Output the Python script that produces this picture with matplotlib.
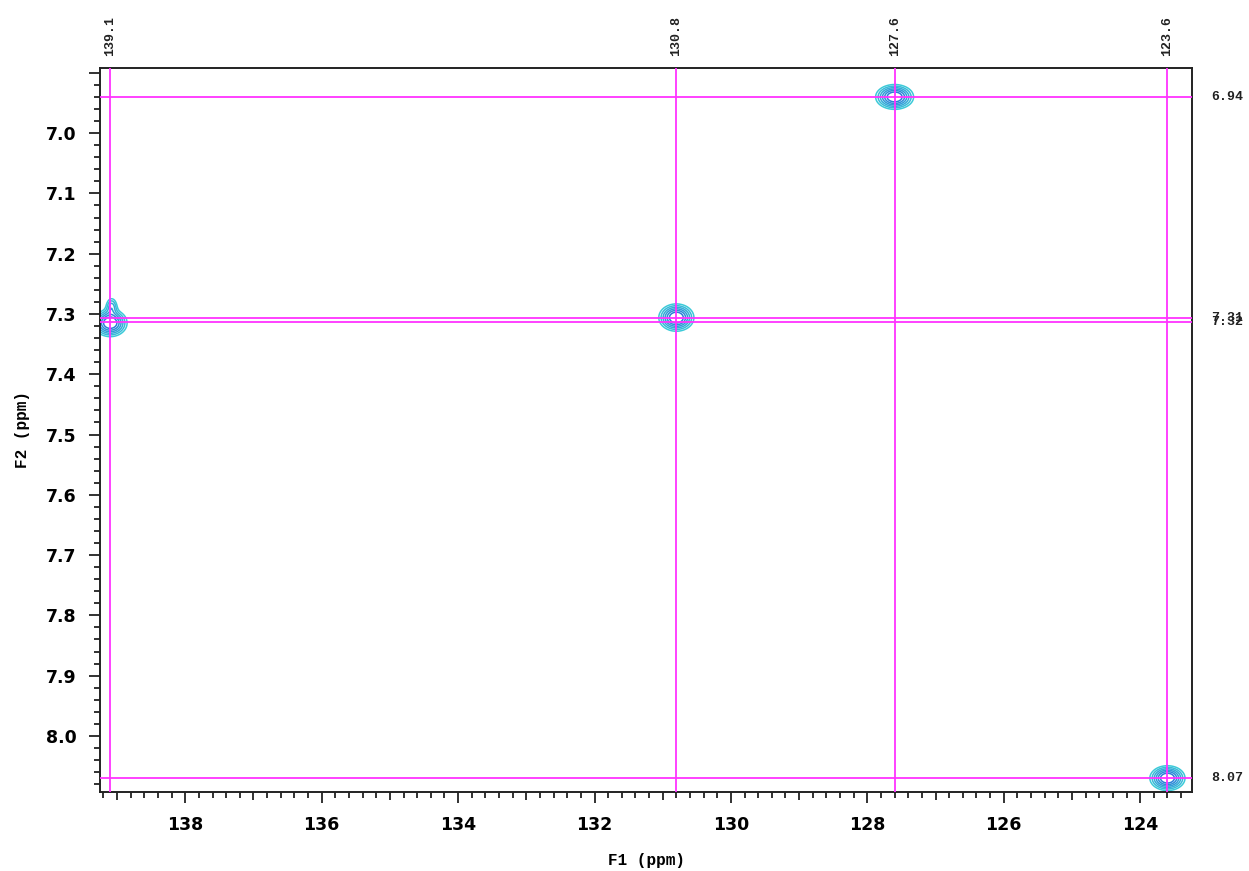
import numpy as np
import matplotlib
matplotlib.use("Agg")
import matplotlib.pyplot as plt
from matplotlib.ticker import MultipleLocator, FuncFormatter
from matplotlib.colors import LinearSegmentedColormap

# ---- data ----
peak_f1 = [139.10, 139.08, 130.80, 127.60, 123.60]
peak_f2 = [7.315, 7.288, 7.306, 6.940, 8.070]
peak_sx = [0.120, 0.050, 0.125, 0.135, 0.125]
peak_sy = [0.0110, 0.0090, 0.0110, 0.0100, 0.0100]
peak_amp = [1.0, 0.35, 1.0, 1.0, 1.0]

vline_f1 = [139.1, 130.8, 127.6, 123.6]
vline_labels = ["139.1", "130.8", "127.6", "123.6"]
hline_f2 = [6.94, 7.306, 7.314, 8.07]
hline_labels = ["6.94", "7.31", "7.32", "8.07"]

contour_levels = [0.12, 0.2, 0.3, 0.42, 0.56, 0.72]

xlim = (139.25, 123.24)
ylim = (8.093, 6.892)

fig = plt.figure(figsize=(12.49, 8.71), dpi=100)
ax = fig.add_axes([100/1249, 1-792/871, 1092/1249, 724/871])

# contours
xs = np.linspace(139.6, 122.9, 1800)
ys = np.linspace(6.85, 8.15, 1300)
X, Y = np.meshgrid(xs, ys)
Z = np.zeros_like(X)
for f1, f2, sx, sy, a in zip(peak_f1, peak_f2, peak_sx, peak_sy, peak_amp):
    Z += a * np.exp(-0.5 * (((X - f1) / sx) ** 2 + ((Y - f2) / sy) ** 2))
cmap = LinearSegmentedColormap.from_list("c", ["#3CCAD8", "#2C7FD8"])
cols = [cmap(i / (len(contour_levels) - 1)) for i in range(len(contour_levels))]
ax.contour(X, Y, Z, levels=contour_levels, colors=cols, linewidths=1.1, zorder=2)

# crosshair lines
for f1 in vline_f1:
    ax.axvline(f1, color="#FF33FF", lw=1.3, zorder=3)
for f2 in hline_f2:
    ax.axhline(f2, color="#FF33FF", lw=1.3, zorder=3)

ax.set_xlim(*xlim)
ax.set_ylim(*ylim)

# labels on top / right
for f1, lab in zip(vline_f1, vline_labels):
    ax.annotate(lab, xy=(f1, 1), xycoords=("data", "axes fraction"),
                xytext=(0, 9), textcoords="offset points", rotation=90,
                ha="center", va="bottom", fontsize=9.5, fontweight="bold",
                family="Liberation Mono", color="#222222")
for f2, lab in zip(hline_f2, hline_labels):
    ax.annotate(lab, xy=(1, f2), xycoords=("axes fraction", "data"),
                xytext=(14, 0), textcoords="offset points",
                ha="left", va="center", fontsize=9.5, fontweight="bold",
                family="Liberation Mono", color="#222222")

# ticks
ax.xaxis.set_major_locator(MultipleLocator(1))
ax.xaxis.set_minor_locator(MultipleLocator(0.2))
ax.xaxis.set_major_formatter(FuncFormatter(lambda v, p: f"{int(round(v))}" if int(round(v)) % 2 == 0 else ""))
ax.yaxis.set_major_locator(MultipleLocator(0.1))
ax.yaxis.set_minor_locator(MultipleLocator(0.02))
ax.yaxis.set_major_formatter(FuncFormatter(lambda v, p: "" if v < 6.95 else f"{v:.1f}"))

ax.tick_params(axis="both", which="major", direction="out", color="#222222", width=1.3,
               labelsize=12.5, pad=9, length=8)
ax.tick_params(axis="both", which="minor", direction="out", color="#222222", width=1.3, length=4)
for lab in ax.get_xticklabels() + ax.get_yticklabels():
    lab.set_fontweight("bold")
    lab.set_family("DejaVu Sans")

fig.canvas.draw()
for t in ax.xaxis.get_major_ticks():
    v = t.get_loc()
    if int(round(v)) % 2 == 0:
        t.tick1line.set_markersize(8)
    else:
        t.tick1line.set_markersize(6)

for s in ax.spines.values():
    s.set_linewidth(1.4)
    s.set_color("#222222")

ax.set_xlabel("F1 (ppm)", fontsize=11.5, fontweight="bold", family="Liberation Mono", labelpad=14)
ax.set_ylabel("F2 (ppm)", fontsize=11.5, fontweight="bold", family="Liberation Mono", labelpad=11)

fig.savefig("out.png", dpi=100, facecolor="white")
